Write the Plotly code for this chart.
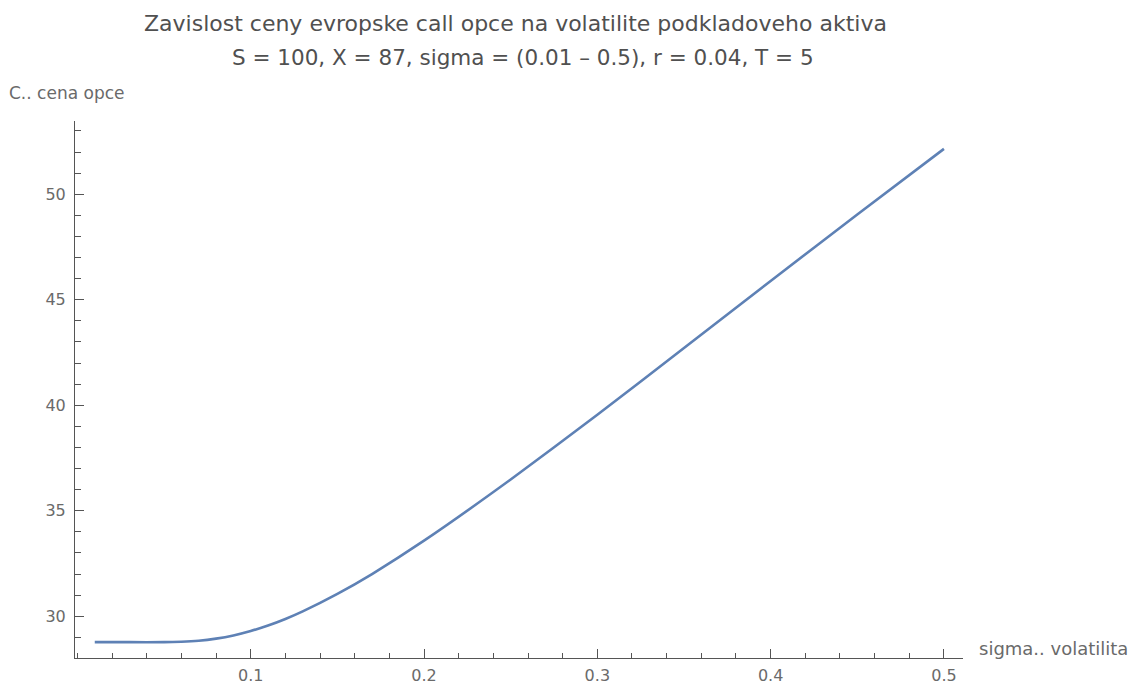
import plotly.graph_objects as go

# volatility (sigma) and European call price
sigma = [0.01, 0.03, 0.05, 0.06, 0.07, 0.08, 0.09, 0.10, 0.11, 0.12, 0.13, 0.15,
         0.17, 0.20, 0.25, 0.30, 0.35, 0.40, 0.45, 0.50]
price = [28.77, 28.77, 28.77, 28.79, 28.84, 28.94, 29.09, 29.30, 29.56, 29.87, 30.23, 31.06,
         32.00, 33.58, 36.48, 39.55, 42.71, 45.89, 49.04, 52.15]

x_ticks = [0.1, 0.2, 0.3, 0.4, 0.5]
y_ticks = [30, 35, 40, 45, 50]

title1 = "Zavislost ceny evropske call opce na volatilite podkladoveho aktiva"
title2 = "S = 100, X = 87, sigma = (0.01 \u2013 0.5), r = 0.04, T = 5"
ylab = "C.. cena opce"
xlab = "sigma.. volatilita"

AX = "#555555"
TXT = "#6a6a6a"
FONT = "DejaVu Sans, Verdana, sans-serif"

fig = go.Figure()
fig.add_trace(go.Scatter(x=sigma, y=price, mode="lines",
                         line=dict(color="#5E81B5", width=2.6, shape="spline",
                                   smoothing=0.5),
                         hoverinfo="skip", showlegend=False))

fig.update_layout(
    width=1146, height=686,
    margin=dict(l=75, r=183, t=121, b=28, autoexpand=False),
    paper_bgcolor="white", plot_bgcolor="white",
    font=dict(family=FONT, color=TXT, size=17),
    xaxis=dict(range=[-0.0014, 0.511], showgrid=False, zeroline=False,
               automargin=False,
               showline=True, linecolor=AX, linewidth=1,
               tickvals=x_ticks, ticktext=[str(v) for v in x_ticks],
               ticks="inside", ticklen=9, tickcolor=AX, tickwidth=1,
               ticklabelstandoff=3,
               minor=dict(dtick=0.02, tick0=0, ticks="inside", ticklen=5,
                          tickcolor=AX, showgrid=False),
               tickfont=dict(size=16, color=TXT)),
    yaxis=dict(range=[28.02, 53.47], showgrid=False, zeroline=False,
               automargin=False,
               showline=True, linecolor=AX, linewidth=1,
               tickvals=y_ticks, ticktext=[str(v) for v in y_ticks],
               ticks="inside", ticklen=9, tickcolor=AX, tickwidth=1,
               ticklabelstandoff=5,
               minor=dict(dtick=1, tick0=0, ticks="inside", ticklen=6,
                          tickcolor=AX, showgrid=False),
               tickfont=dict(size=16, color=TXT)),
    annotations=[
        dict(text=title1, xref="paper", yref="paper", x=0.4955, y=1.182,
             xanchor="center", yanchor="middle", showarrow=False,
             font=dict(size=22, color="#505050", family=FONT)),
        dict(text=title2, xref="paper", yref="paper", x=0.504, y=1.119,
             xanchor="center", yanchor="middle", showarrow=False,
             font=dict(size=21.5, color="#505050", family=FONT)),
        dict(text=ylab, xref="paper", yref="paper", x=-0.0766, y=1.052,
             xanchor="left", yanchor="middle", showarrow=False,
             font=dict(size=17, color=TXT, family=FONT)),
        dict(text=xlab, xref="paper", yref="paper", x=1.0158, y=0.0186,
             xanchor="left", yanchor="middle", showarrow=False,
             font=dict(size=18, color=TXT, family=FONT)),
    ],
)

fig.write_html("out.html")
